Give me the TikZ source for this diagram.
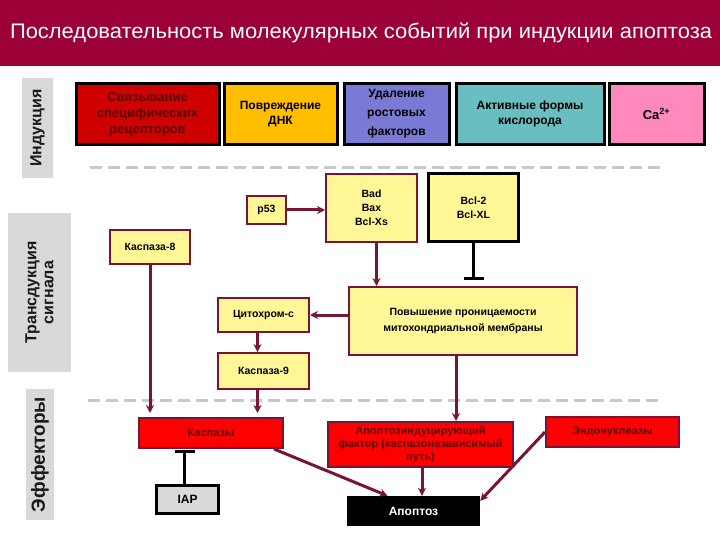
\documentclass[tikz,border=0pt]{standalone}
\usepackage{fontspec}
\setmainfont{Liberation Sans}
\usetikzlibrary{arrows.meta,calc}
\definecolor{band}{RGB}{155,0,54}
\definecolor{maroon}{RGB}{122,20,52}
\definecolor{lyel}{RGB}{255,246,150}
\definecolor{cred}{RGB}{206,0,0}
\definecolor{corange}{RGB}{255,190,0}
\definecolor{cviolet}{RGB}{122,122,212}
\definecolor{cteal}{RGB}{104,190,192}
\definecolor{cpink}{RGB}{255,136,188}
\definecolor{lgray}{RGB}{217,217,217}
\definecolor{dgray}{RGB}{200,200,200}
\definecolor{rtext}{RGB}{95,0,0}
\begin{document}
\begin{tikzpicture}[x=1pt,y=-1pt,
  topbox/.style={draw=black,line width=3pt,align=center,inner sep=1pt,
    font=\fontsize{12}{15}\selectfont\bfseries,minimum height=61pt},
  ybox/.style={draw=maroon,line width=2pt,fill=lyel,align=center,inner sep=1pt,
    font=\fontsize{10.5}{13}\selectfont\bfseries},
  rbox/.style={draw=maroon,line width=2pt,fill=red,align=center,inner sep=1pt,
    text=rtext,font=\fontsize{11}{13}\selectfont\bfseries},
  lab/.style={fill=lgray,align=center,inner sep=0pt,rotate=90,text=black!90},
  arr/.style={draw=maroon,line width=3pt,-{Stealth[length=8pt,width=8pt]}},
  inhib/.style={draw=black,line width=3pt,-{Bar[width=20pt,line width=3pt]}},
  sep/.style={draw=dgray,line width=3pt,dash pattern=on 12pt off 6pt}]
\useasboundingbox (0,0) rectangle (720,540);
\fill[white] (0,0) rectangle (720,540);
% title band
\fill[band] (0,0) rectangle (720,66);
\node[text=white] (title) at (361,33)
  {\fontsize{21}{23}\selectfont\resizebox{702pt}{\height}{Последовательность молекулярных событий при индукции апоптоза}};
% side labels
\node[lab,minimum width=100pt,minimum height=31pt,font=\fontsize{16}{18}\selectfont\bfseries] (lind) at (37.5,128) {Индукция};
\node[lab,minimum width=159pt,minimum height=63pt,font=\fontsize{16}{17}\selectfont\bfseries] (ltrans) at (39.5,292.5) {Трансдукция\\сигнала};
\node[lab,minimum width=131pt,minimum height=28pt,font=\fontsize{19}{21}\selectfont\bfseries] (leff) at (40,454.5) {Эффекторы};
% separators
\draw[sep] (90,168) -- (665,168);
\draw[sep] (88,400) -- (662,400);
% top row
\node[topbox,fill=cred,text=rtext,minimum width=143pt,font=\fontsize{13}{16}\selectfont\bfseries] (b1) at (147.5,114) {Связывание\\специфических\\рецепторов};
\node[topbox,fill=corange,minimum width=113pt] (b2) at (280.5,114) {Повреждение\\ДНК};
\node[topbox,fill=cviolet,minimum width=105pt,font=\fontsize{12}{19}\selectfont\bfseries] (b3) at (396.5,114) {Удаление\\ростовых\\факторов};
\node[topbox,fill=cteal,minimum width=148pt] (b4) at (530,114) {Активные формы\\кислорода};
\node[topbox,fill=cpink,minimum width=95pt,font=\fontsize{13}{15}\selectfont\bfseries] (b5) at (656.5,114) {Ca\textsuperscript{2+}};
% transduction
\node[ybox,minimum width=39pt,minimum height=28pt] (p53) at (266.5,210) {p53};
\node[ybox,minimum width=91pt,minimum height=68pt,font=\fontsize{10.5}{14}\selectfont\bfseries] (bad) at (371.5,208) {Bad\\Bax\\Bcl-Xs};
\node[ybox,draw=black,line width=3pt,minimum width=90pt,minimum height=68pt,font=\fontsize{10.5}{14}\selectfont\bfseries] (bcl) at (473.5,207.5) {Bcl-2\\Bcl-XL};
\node[ybox,minimum width=80pt,minimum height=34pt] (c8) at (150,247) {Каспаза-8};
\node[ybox,minimum width=228pt,minimum height=68pt,font=\fontsize{10.5}{16}\selectfont\bfseries] (perm) at (463,321) {Повышение проницаемости\\митохондриальной мембраны};
\node[ybox,minimum width=91pt,minimum height=34pt] (cyt) at (263.5,315) {Цитохром-с};
\node[ybox,minimum width=91pt,minimum height=36pt] (c9) at (263.5,371) {Каспаза-9};
% effectors
\node[rbox,minimum width=144pt,minimum height=30pt] (cs) at (211,433) {Каспазы};
\node[draw=black,line width=3pt,fill=lgray,minimum width=62pt,minimum height=28pt,font=\fontsize{12}{14}\selectfont\bfseries] (iap) at (187.5,499.5) {IAP};
\node[rbox,minimum width=185pt,minimum height=45pt] (aif) at (420.5,444.5) {Апоптозиндуцирующий\\фактор (каспазонезависимый\\путь)};
\node[fill=black,text=white,minimum width=133pt,minimum height=30pt,font=\fontsize{12}{14}\selectfont\bfseries] (apo) at (413.5,511) {Апоптоз};
\node[rbox,minimum width=133pt,minimum height=30pt] (endo) at (612.5,432) {Эндонуклеазы};
% connectors
\draw[arr] (p53.east) -- (bad.west |- p53.east);
\draw[arr] ([xshift=5pt]bad.south) -- ([xshift=5pt]bad.south |- perm.north);
\draw[inhib,shorten >=6pt] (bcl.south) -- (bcl.south |- perm.north);
\draw[arr] (cyt.east -| perm.west) -- (cyt.east);
\draw[arr] ([xshift=-6pt]cyt.south) -- ([xshift=-6pt]c9.north);
\draw[arr,shorten >=4pt] (c8.south) -- (c8.south |- cs.north);
\draw[arr,shorten >=4pt] ([xshift=-6pt]c9.south) -- ([xshift=-6pt]c9.south |- cs.north);
\draw[inhib,shorten >=1pt] ([xshift=-3pt]iap.north) -- ([xshift=-3pt]iap.north |- cs.south);
\draw[arr] ([xshift=-7pt]perm.south) -- ([xshift=-7pt]perm.south |- aif.north);
\draw[arr] ([xshift=1.5pt]aif.south) -- ([xshift=1.5pt]aif.south |- apo.north);
\draw[arr] ([xshift=-10pt]cs.south east) -- ([xshift=-26pt]apo.north);
\draw[arr] (endo.west) -- ([yshift=-5pt]apo.north east);
\end{tikzpicture}
\end{document}
